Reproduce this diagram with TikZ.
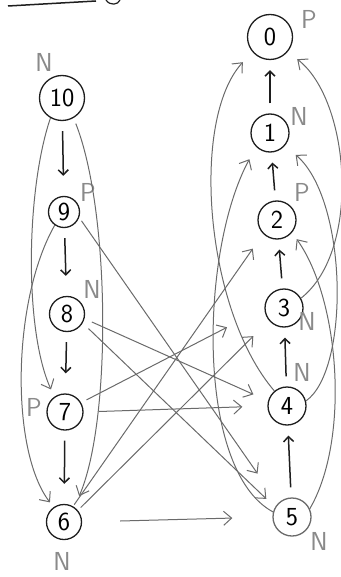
\documentclass[tikz,border=0pt]{standalone}
\usepackage{tikz}
\usetikzlibrary{arrows.meta}
\definecolor{inkcolor}{HTML}{1E1E1E}
\definecolor{pencilcolor}{HTML}{6A6A6A}
\definecolor{tagcolor}{HTML}{8A8A8A}

\begin{document}
\begin{tikzpicture}[x=1pt,y=-1pt,
 state/.style={draw=inkcolor,circle,line width=1.3pt,minimum size=38pt,
               inner sep=0pt,font=\sffamily\fontsize{26}{26}\selectfont},
 chain/.style={-{Straight Barb[length=5pt,width=10pt]},line width=1.5pt,
               draw=inkcolor,shorten <=10pt,shorten >=10pt},
 leftchain/.style={chain,shorten >=20pt},
 cross/.style={-{Straight Barb[length=8pt,width=14pt]},line width=1pt,
               draw=pencilcolor},
 tag/.style={text=tagcolor,font=\sffamily\fontsize{26}{26}\selectfont,
             inner sep=0pt}]
 \useasboundingbox (0,0) rectangle (340,577);
 % left column
 \node[state,minimum size=45pt] (n10) at (62,98) {10};
 \node[state,minimum size=31pt] (n9) at (64,212) {9};
 \node[state,minimum size=35pt] (n8) at (67,314) {8};
 \node[state,minimum size=36pt] (n7) at (65,412) {7};
 \node[state,minimum size=35pt] (n6) at (64,522) {6};
 % right column
 \node[state,minimum size=45pt] (n0) at (270,37) {0};
 \node[state] (n1) at (270,133) {1};
 \node[state] (n2) at (277,220) {2};
 \node[state] (n3) at (284,308) {3};
 \node[state] (n4) at (287,406) {4};
 \node[state,draw=pencilcolor] (n5) at (292,517) {5};
 % N / P marks
 \node[tag] (t10) at (44,62) {N};
 \node[tag] (t9) at (88,192) {P};
 \node[tag] (t8) at (92,289) {N};
 \node[tag] (t7) at (34,407) {P};
 \node[tag] (t6) at (62,561) {N};
 \node[tag] (t0) at (309,19) {P};
 \node[tag] (t1) at (299,116) {N};
 \node[tag] (t2) at (302,192) {P};
 \node[tag] (t3) at (307,321) {N};
 \node[tag] (t4) at (302,372) {N};
 \node[tag] (t5) at (319,541) {N};
 % take one
 \draw[leftchain] (n10) -- (n9);
 \draw[leftchain] (n9) -- (n8);
 \draw[leftchain] (n8) -- (n7);
 \draw[leftchain] (n7) -- (n6);
 \draw[chain] (n5) -- (n4);
 \draw[chain] (n4) -- (n3);
 \draw[chain] (n3) -- (n2);
 \draw[chain] (n2) -- (n1);
 \draw[chain] (n1) -- (n0);
 % take three or four, left
 \draw[cross,shorten >=8pt] (n10.240) .. controls (26,190) and (24,330) .. (n7.125);
 \draw[cross,shorten >=6pt] (n9.235) .. controls (12,300) and (10,450) .. (n6.125);
 \draw[cross,shorten <=6pt,shorten >=12pt]
   (n10.300) .. controls (110,210) and (112,420) .. (n6.55);
 % across
 \draw[cross,shorten <=4pt,shorten >=36pt] (n9.-20) -- (n5.135);
 \draw[cross,shorten <=8pt,shorten >=16pt] (n8.-15) -- (n4.165);
 \draw[cross,shorten <=8pt,shorten >=12pt] (n8.-30) -- (n5.150);
 \draw[cross,shorten <=15pt,shorten >=25pt] (n7.east) -- (n4.west);
 \draw[cross,shorten <=6pt,shorten >=42pt] (n7.30) -- (n3.west);
 \draw[cross,shorten <=4pt,shorten >=22pt] (n6.40) -- (n3.220);
 \draw[cross,shorten <=2pt,shorten >=18pt] (n6.60) -- (n2.225);
 \draw[cross,shorten <=38pt,shorten >=40pt] (n6.east) -- (n5.west);
 % take three or four, right
 \draw[cross,shorten >=14pt] (n4.130) .. controls (205,310) and (190,120) .. (n0.220);
 \draw[cross,shorten >=14pt] (n5.165) .. controls (195,470) and (200,250) .. (n1.225);
 \draw[cross,shorten >=12pt] (n3.30) .. controls (362,250) and (350,100) .. (n0.-40);
 \draw[cross,shorten >=14pt] (n4.15) .. controls (350,370) and (348,200) .. (n1.-40);
 \draw[cross,shorten >=8pt] (n5.25) .. controls (350,440) and (340,300) .. (n2.-40);
 % cut-off heading stroke
 \draw[inkcolor,line width=1.5pt] (8,6) -- (96,1);
 \draw[inkcolor,line width=1.2pt] (106,0) .. controls (110,6) and (118,5) .. (120,0);
\end{tikzpicture}
\end{document}
